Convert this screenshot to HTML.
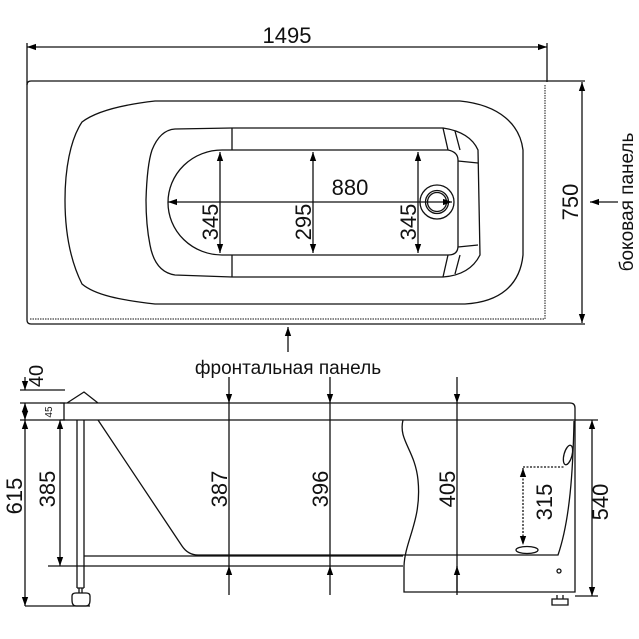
<!DOCTYPE html>
<html><head><meta charset="utf-8"><style>body{margin:0;background:#fff}svg{display:block}text{font-family:"Liberation Sans",sans-serif;fill:#111}</style></head><body>
<svg width="639" height="639" viewBox="0 0 639 639" xmlns="http://www.w3.org/2000/svg">
<defs><marker id="a" viewBox="0 0 10 10" refX="10" refY="5" markerWidth="9" markerHeight="9" orient="auto-start-reverse" markerUnits="userSpaceOnUse"><path d="M0,1.5L10,5L0,8.5z" fill="#000"/></marker></defs>
<g stroke="#111" stroke-width="1.3" fill="none">
<line x1="27" y1="47" x2="547" y2="47" marker-start="url(#a)" marker-end="url(#a)"/>
<line x1="27" y1="43" x2="27" y2="320"/><line x1="547" y1="43" x2="547" y2="82"/>
<path d="M31,81H585M31,324H585M27,85Q27,81 31,81M27,320Q27,324 31,324"/>
<path d="M30,319H545V84" stroke-dasharray="1.5,1" stroke-width="1"/>
<line x1="582" y1="82" x2="582" y2="323" marker-start="url(#a)" marker-end="url(#a)"/>
<line x1="618" y1="202" x2="590" y2="202" marker-end="url(#a)"/>
<line x1="288" y1="352" x2="288" y2="327" marker-end="url(#a)"/>
<path d="M155,101H460C500,105 520,125 523,150V255C520,285 500,302 465,304H155C120,300 95,295 82,284C70,260 65,230 65,200C65,170 70,140 82,122C95,112 120,105 155,101Z"/>
<path d="M175,129L232,128H443Q470,132 478,150L480,255Q470,275 443,277H232L175,275Q155,272 150,245Q146,225 146,200Q147,165 152,150Q160,130 175,129Z"/>
<path d="M232,128V150M232,255V277"/>
<path d="M222,150H448Q458,152 458,160V246Q458,255 448,255H222A54,52.5 0 0 1 222,150Z"/>
<path d="M443,128L448,150M455,131L460,150M478,163L458,161M478,245L458,247M443,277L448,255M455,274L460,255"/>
<circle cx="437" cy="202" r="17"/><circle cx="437" cy="202" r="11.5"/><circle cx="437" cy="202" r="9.5"/>
<line x1="220" y1="152" x2="220" y2="253" marker-start="url(#a)" marker-end="url(#a)"/>
<line x1="313" y1="152" x2="313" y2="253" marker-start="url(#a)" marker-end="url(#a)"/>
<line x1="418" y1="152" x2="418" y2="253" marker-start="url(#a)" marker-end="url(#a)"/>
<line x1="168" y1="202" x2="452" y2="202" marker-start="url(#a)" marker-end="url(#a)"/>
<path d="M60,403H570Q575,403 575,408V420M60,420H575M64,403V420M67,403L84,392L98,403"/>
<line x1="20" y1="390" x2="65" y2="390"/><line x1="20" y1="403" x2="65" y2="403"/><line x1="20" y1="420" x2="65" y2="420"/>
<path d="M77,420V588M84,420V588M77,588H84M79,588V593M82,588V593M72,596Q72,593 76,593H86Q90,593 90,596V600Q90,606 86,606H76Q72,606 72,600Z"/>
<path d="M98,420L182,546Q188,555 198,555H403"/>
<path d="M84,556H403M48,566H403"/>
<path d="M403,420C398,440 415,450 418,480C422,520 405,540 404,566V592H575V420"/>
<path d="M574,421C573,470 570,520 558,555H403"/>
<path d="M25,606H90"/>
<line x1="25" y1="377" x2="25" y2="390" marker-end="url(#a)"/>
<line x1="25" y1="403" x2="25" y2="420" marker-start="url(#a)" marker-end="url(#a)"/>
<line x1="25" y1="420" x2="25" y2="606" marker-start="url(#a)" marker-end="url(#a)"/>
<line x1="60" y1="420" x2="60" y2="566" marker-start="url(#a)" marker-end="url(#a)"/>
<line x1="229" y1="377" x2="229" y2="403" marker-end="url(#a)"/><line x1="229" y1="403" x2="229" y2="566"/><line x1="229" y1="595" x2="229" y2="566" marker-end="url(#a)"/>
<line x1="330" y1="377" x2="330" y2="403" marker-end="url(#a)"/><line x1="330" y1="403" x2="330" y2="566"/><line x1="330" y1="595" x2="330" y2="566" marker-end="url(#a)"/>
<line x1="457" y1="377" x2="457" y2="403" marker-end="url(#a)"/><line x1="457" y1="403" x2="457" y2="592"/><line x1="457" y1="595" x2="457" y2="566" marker-end="url(#a)"/>
<path d="M575,420H598M575,596H598"/>
<line x1="592" y1="420" x2="592" y2="596" marker-start="url(#a)" marker-end="url(#a)"/>
<path d="M523,467H565" stroke-dasharray="2,1.5"/>
<line x1="523" y1="468" x2="523" y2="545" stroke-dasharray="2,1.5" marker-start="url(#a)" marker-end="url(#a)"/>
<ellipse cx="568" cy="455" rx="4" ry="10" transform="rotate(15 568 455)"/>
<ellipse cx="527" cy="550" rx="11" ry="3.5"/>
<circle cx="559" cy="571" r="2"/>
<path d="M557,595V599M563,595V599M552,599H568V605H552Z"/>
</g>
<g font-size="22">
<text x="287" y="43" text-anchor="middle">1495</text>
<text x="350" y="195" text-anchor="middle">880</text>
<text x="288" y="374" text-anchor="middle" font-size="19">фронтальная панель</text>
<text transform="translate(218,222) rotate(-90)" text-anchor="middle">345</text>
<text transform="translate(311,222) rotate(-90)" text-anchor="middle">295</text>
<text transform="translate(416,222) rotate(-90)" text-anchor="middle">345</text>
<text transform="translate(578,202) rotate(-90)" text-anchor="middle">750</text>
<text transform="translate(633,202) rotate(-90)" text-anchor="middle" font-size="19">боковая панель</text>
<text transform="translate(43,376) rotate(-90)" text-anchor="middle" font-size="20">40</text>
<text transform="translate(52,412) rotate(-90)" text-anchor="middle" font-size="10">45</text>
<text transform="translate(22,496) rotate(-90)" text-anchor="middle">615</text>
<text transform="translate(55,489) rotate(-90)" text-anchor="middle">385</text>
<text transform="translate(227,489) rotate(-90)" text-anchor="middle">387</text>
<text transform="translate(328,489) rotate(-90)" text-anchor="middle">396</text>
<text transform="translate(455,489) rotate(-90)" text-anchor="middle">405</text>
<text transform="translate(552,502) rotate(-90)" text-anchor="middle">315</text>
<text transform="translate(608,502) rotate(-90)" text-anchor="middle">540</text>
</g>
</svg>
</body></html>
